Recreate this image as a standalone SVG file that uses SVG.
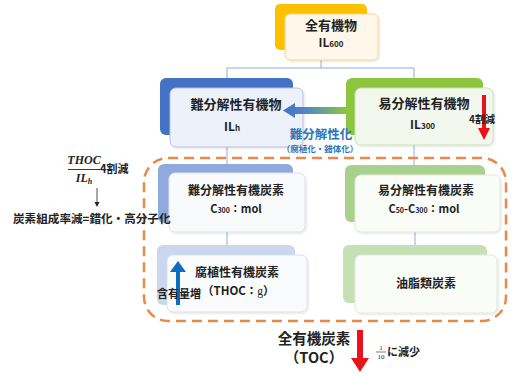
<svg xmlns="http://www.w3.org/2000/svg" width="514" height="376" viewBox="0 0 514 376">
<defs>
<linearGradient id="gArrow" x1="0" y1="0" x2="1" y2="0">
<stop offset="0" stop-color="#4472C4"/>
<stop offset="0.35" stop-color="#4F86C6"/>
<stop offset="1" stop-color="#8CC63F"/>
</linearGradient>
<filter id="sh" x="-10%" y="-10%" width="130%" height="130%">
<feDropShadow dx="1" dy="1" stdDeviation="1.2" flood-color="#000" flood-opacity="0.12"/>
</filter>
</defs>
<style>
.t{font-family:"Noto Sans CJK JP","Noto Sans",sans-serif;font-weight:bold;fill:#222;}
.c{text-anchor:middle;}
.conn{stroke:#8FAADC;stroke-width:1;fill:none;}
.card{filter:url(#sh);stroke-width:1;}
</style>
<rect width="514" height="376" fill="#FFFFFF"/>

<g id="connectors">
<line class="conn" x1="321" y1="60" x2="321" y2="68"/>
<line class="conn" x1="227" y1="68" x2="414" y2="68"/>
<line class="conn" x1="227" y1="68" x2="227" y2="80"/>
<line class="conn" x1="414" y1="68" x2="414" y2="80"/>
<line class="conn" x1="227" y1="146" x2="227" y2="166"/>
<line class="conn" x1="414" y1="144" x2="414" y2="166"/>
<line class="conn" x1="227" y1="231" x2="227" y2="247"/>
<line class="conn" x1="415" y1="231" x2="415" y2="247"/>
</g>

<g id="n-total">
<rect x="275" y="4" width="92" height="46" rx="5" fill="#FFC000"/>
<rect class="card" x="285" y="14" width="93" height="46" rx="5" fill="#FFF8EA" stroke="#F7D68A"/>
<text class="t c" x="331" y="30" font-size="13">全有機物</text>
<text class="t c" x="331" y="47" font-size="12">IL<tspan font-size="8">600</tspan></text>
</g>

<g id="n-hard">
<rect x="160" y="78" width="133" height="57" rx="6" fill="#4472C4"/>
<rect class="card" x="170" y="88" width="133" height="59" rx="6" fill="#EDF1F9" stroke="#B4C3E0"/>
<text class="t c" x="236" y="109" font-size="13">難分解性有機物</text>
<text class="t c" x="232" y="131" font-size="12">IL<tspan font-size="8">h</tspan></text>
</g>

<g id="n-easy">
<rect x="346" y="78" width="137" height="57" rx="6" fill="#8CC63F"/>
<rect class="card" x="355" y="88" width="138" height="57" rx="6" fill="#F3F8EE" stroke="#C9E2AE"/>
<text class="t c" x="424" y="108" font-size="13">易分解性有機物</text>
<text class="t" x="410" y="129" font-size="12">IL<tspan font-size="8">300</tspan></text>
<polygon points="482,95 486,95 486,128 490,128 484,140 478,128 482,128" fill="#E8141B"/>
<text class="t" x="469" y="123" font-size="10">4割減</text>
</g>

<g id="n-hardC">
<rect x="158" y="164" width="135" height="59" rx="6" fill="#8FAADC"/>
<rect class="card" x="169" y="173" width="136" height="59" rx="6" fill="#F9FAFC" stroke="#DCE2EC"/>
<text class="t c" x="236" y="195" font-size="12">難分解性有機炭素</text>
<text class="t c" x="236" y="213" font-size="11">C<tspan font-size="7">300</tspan>：mol</text>
</g>

<g id="n-easyC">
<rect x="345" y="165" width="140" height="57" rx="6" fill="#A9D18E"/>
<rect class="card" x="355" y="175" width="145" height="57" rx="6" fill="#FAFCF8" stroke="#E2EADA"/>
<text class="t c" x="426" y="195" font-size="12">易分解性有機炭素</text>
<text class="t c" x="424" y="213" font-size="11">C<tspan font-size="7">50</tspan>-C<tspan font-size="7">300</tspan>：mol</text>
</g>

<g id="n-humus">
<rect x="157" y="245" width="138" height="60" rx="6" fill="#CBD7EE"/>
<rect class="card" x="167" y="255" width="140" height="57" rx="6" fill="#FAFBFD" stroke="#DCE2EC"/>
<text class="t c" x="237" y="277" font-size="12">腐植性有機炭素</text>
<text class="t" x="202" y="295" font-size="11.5">（THOC：<tspan font-family="Liberation Serif" font-weight="normal">g</tspan>）</text>
<polygon points="176,305 180,305 180,272 186,272 178,261 170,272 176,272" fill="#0B6EC0"/>
<text class="t" x="157" y="298" font-size="11">含有量増</text>
</g>

<g id="n-oil">
<rect x="343" y="245" width="144" height="58" rx="6" fill="#C5E0B4"/>
<rect class="card" x="355" y="255" width="142" height="58" rx="6" fill="#FAFCF8" stroke="#E2EADA"/>
<text class="t c" x="426" y="288" font-size="12">油脂類炭素</text>
</g>

<g id="arrow-humification">
<polygon points="346,107 295,107 295,103 283,110.5 295,118 295,114 346,114" fill="url(#gArrow)"/>
<text class="t c" x="321" y="139" font-size="12.5" style="fill:#2E75B6">難分解性化</text>
<text class="t c" x="320" y="152" font-size="8.5" style="fill:#2E75B6">（腐植化・錯体化）</text>
</g>

<g id="group-box">
<rect x="144" y="158" width="362" height="163" rx="24" fill="none" stroke="#E8894A" stroke-width="2.5" stroke-dasharray="10 6"/>
</g>

<g id="left-note">
<text x="84" y="164" font-family="Liberation Serif" font-style="italic" font-weight="bold" font-size="12" text-anchor="middle" fill="#222">THOC</text>
<line x1="68" y1="169.5" x2="100" y2="169.5" stroke="#222" stroke-width="0.9"/>
<text x="84" y="182" font-family="Liberation Serif" font-style="italic" font-weight="bold" font-size="12" text-anchor="middle" fill="#222">IL<tspan font-size="8" dy="2">h</tspan></text>
<text class="t" x="100" y="173" font-size="11">4割減</text>
<line x1="97" y1="188" x2="97" y2="203" stroke="#222" stroke-width="0.8"/>
<polygon points="94.5,202 99.5,202 97,207" fill="#222"/>
<text class="t" x="13" y="223" font-size="11.6">炭素組成率減=錯化・高分子化</text>
</g>

<g id="n-toc">
<text class="t c" x="314" y="344" font-size="14.5">全有機炭素</text>
<text class="t c" x="314" y="363" font-size="14.5">（TOC）</text>
<polygon points="357,330 363,330 363,358 369,358 360,372 351,358 357,358" fill="#E8141B"/>
<text x="381" y="350" font-family="Liberation Serif" font-size="7" text-anchor="middle" fill="#222">1</text>
<line x1="376" y1="352" x2="386" y2="352" stroke="#222" stroke-width="0.6"/>
<text x="381" y="359" font-family="Liberation Serif" font-size="7" text-anchor="middle" fill="#222">10</text>
<text class="t" x="387" y="356" font-size="11">に減少</text>
</g>
</svg>
